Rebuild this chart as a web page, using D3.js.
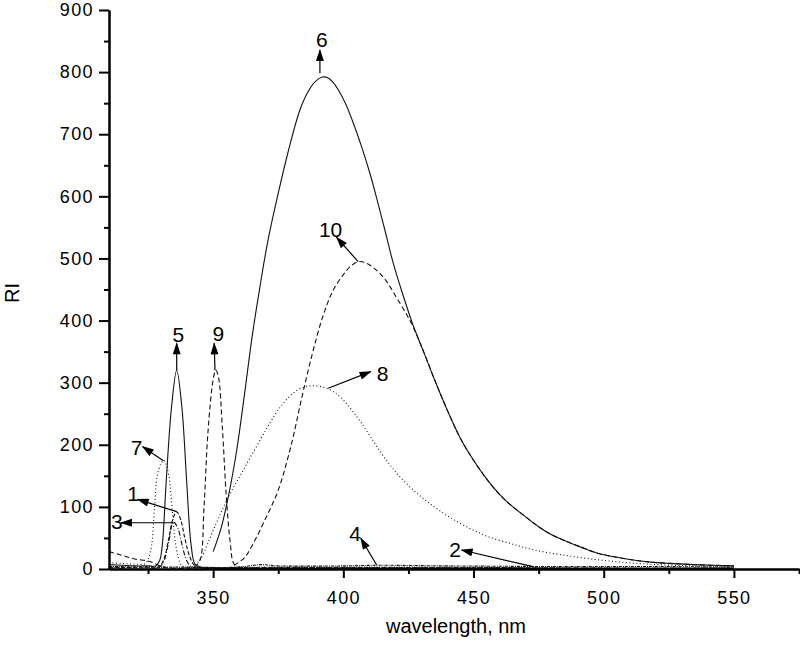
<!DOCTYPE html>
<html>
<head>
<meta charset="utf-8">
<script src="https://cdn.jsdelivr.net/npm/d3@7"></script>
<style>
  body { margin: 0; background: #fff; }
  svg text { font-family: "Liberation Sans", Arial, sans-serif; fill: #000; }
</style>
</head>
<body>
<svg id="chart" width="800" height="650"></svg>
<script>
// spectra, [wavelength nm, RI]
const s1 = [[310,3],[325,2],[329,3],[331,15],[333,50],[334.5,80],[336,92],[337.5,80],[339,52],[341,20],[343,5],[346,2],[360,2],[400,2],[450,2],[500,1],[550,1]];
const s2 = [[310,2],[340,2],[370,3],[400,3],[440,3],[472,2],[500,1],[550,1]];
const s3 = [[310,2],[329,2],[331,12],[333,45],[334.7,76],[336.5,65],[338,40],[340,12],[342,3],[350,1],[400,1],[550,1]];
const s4 = [[310,4],[340,3],[360,3],[368,7],[375,5],[400,5],[413,6],[440,5],[480,4],[520,4],[550,3]];
const s5 = [[310,7],[315,6],[320,5],[325,5],[328,5],[329.5,14],[330.5,40],[332,143],[334,260],[336,320],[338,260],[339.8,143],[341.5,40],[343,8],[345,3],[350,2],[360,1],[400,1],[550,1]];
const s6 = [[350,28],[353,65],[356,120],[359,190],[362,280],[365,375],[368,455],[371,528],[375,605],[379,675],[383,735],[386,765],[389,784],[392,792],[394,791],[396,784],[398,772],[401,748],[404,716],[407,680],[410,640],[413,594],[416,545],[419,495],[423,440],[427,390],[431,348],[435,305],[440,255],[445,210],[450,175],[455,145],[460,120],[464,104],[470,84],[475,68],[480,55],[486,44],[492,34],[498,25],[505,19],[512,14],[518,11],[525,9],[535,7],[550,5]];
const s7 = [[310,10],[315,9],[320,8],[324,9],[326,30],[327.5,100],[328.5,150],[330,170],[331,175],[332,168],[333,150],[334,110],[335,60],[336.5,20],[338,5],[340,2],[360,1],[550,1]];
const s8 = [[342,3],[345,15],[348,42],[351,72],[354,100],[357,125],[361,155],[365,185],[370,222],[374,250],[377,267],[381,284],[385,293],[389,295],[393.6,291],[397,283],[400,272],[404,252],[409,222],[414,190],[418,167],[422,147],[428,123],[434.6,101],[441,83],[447.4,68],[455,53],[465,40],[472.9,31],[485,22],[498.5,14.5],[510,10],[524,6.4],[537,5],[550,4]];
const s9 = [[310,28],[315,22],[320,16],[325,13],[328,8],[331,3],[335,1],[340,1],[343,4],[345,15],[346.5,100],[348,220],[350,305],[351,320],[352,310],[353.5,230],[355,120],[356.5,45],[358,8],[360,3],[370,2],[400,2],[550,1]];
const s10 = [[358,6],[362,18],[365,38],[370,80],[375,127],[380,200],[384,275],[388,345],[392,405],[396,448],[400,474],[403,488],[406,495],[409,492],[413,480],[416.6,463],[420,440],[424,412],[427,388],[431,348],[435,305],[440,255],[445,210],[450,175],[455,145],[460,120],[464,104],[470,84],[475,68],[480,55],[486,44],[492,34],[498,25],[505,19],[512,14],[518,11],[525,9],[535,7],[550,5]];

// annotations: label, label position, arrow tail, arrow head (data units)
const labels = ["1","2","3","4","5","6","7","8","9","10"];
const labelPos = [[319.3,122],[442.9,31.7],[313,76.2],[404.5,56.4],[336.6,377],[391.7,852],[320.6,196],[415.1,315],[352,379.5],[395.1,547]];
const arrowFrom = [[336,92.3],[472.9,3.7],[334.7,74.5],[412.8,6.4],[336,320],[391,798],[330.9,174.4],[394.2,291],[350.7,320],[405.7,494.8]];
const arrowTo = [[321,112.2],[445.4,30.6],[314.6,74.5],[406.7,49.4],[336,363.4],[391,835.6],[322.9,197],[410.5,317.7],[350.4,363.4],[397.4,534]];

const xMajor = [350, 400, 450, 500, 550];
const xMinor = [325, 375, 425, 475, 525, 575];
const yMajor = [0, 100, 200, 300, 400, 500, 600, 700, 800, 900];
const yMinor = [50, 150, 250, 350, 450, 550, 650, 750, 850];

const series = [
  { d: s2, dash: "1,1.5" },
  { d: s4, dash: "3,1,1,1" },
  { d: s1, dash: "4,2" },
  { d: s3, dash: "5,2,1,2" },
  { d: s7, dash: "1,2.5" },
  { d: s8, dash: "1,2.5" },
  { d: s9, dash: "5,3" },
  { d: s10, dash: "5,3" },
  { d: s5, dash: null },
  { d: s6, dash: null }
];

const svg = d3.select("#chart");
const x = d3.scaleLinear().domain([310, 575]).range([109, 799]);
const y = d3.scaleLinear().domain([0, 900]).range([569, 10]);

const line = d3.line()
  .x(d => x(d[0]))
  .y(d => y(d[1]))
  .curve(d3.curveCatmullRom.alpha(0.5));

svg.append("g")
  .selectAll("path")
  .data(series)
  .enter().append("path")
  .attr("d", d => line(d.d))
  .attr("fill", "none")
  .attr("stroke", "#111")
  .attr("stroke-width", 1.1)
  .attr("stroke-dasharray", d => d.dash);

// axes
function styleAxis(g) {
  g.select(".domain").attr("stroke", "#000").attr("stroke-width", 2);
  g.selectAll(".tick line").attr("stroke", "#000").attr("stroke-width", 2);
  g.selectAll(".tick text")
    .attr("font-size", "18px")
    .attr("letter-spacing", "1.4px")
    .attr("font-family", "Liberation Sans, Arial, sans-serif");
}

svg.append("g")
  .attr("transform", `translate(0,${y(0)})`)
  .call(d3.axisBottom(x).tickValues(xMinor).tickSize(5).tickSizeOuter(0).tickFormat(""))
  .call(styleAxis);

svg.append("g")
  .attr("transform", `translate(0,${y(0)})`)
  .call(d3.axisBottom(x).tickValues(xMajor).tickSize(9).tickSizeOuter(0).tickPadding(13).tickFormat(d3.format("d")))
  .call(styleAxis);

svg.append("g")
  .attr("transform", `translate(${x(310)},0)`)
  .call(d3.axisLeft(y).tickValues(yMinor).tickSize(5).tickSizeOuter(0).tickFormat(""))
  .call(styleAxis);

svg.append("g")
  .attr("transform", `translate(${x(310)},0)`)
  .call(d3.axisLeft(y).tickValues(yMajor).tickSize(10).tickSizeOuter(0).tickPadding(5).tickFormat(d3.format("d")))
  .call(styleAxis);

svg.append("text")
  .attr("x", 456)
  .attr("y", 633)
  .attr("text-anchor", "middle")
  .attr("font-size", "20px")
  .text("wavelength, nm");

svg.append("text")
  .attr("transform", "translate(19,293) rotate(-90)")
  .attr("text-anchor", "middle")
  .attr("font-size", "20px")
  .text("RI");

// arrows
svg.append("defs").append("marker")
  .attr("id", "head")
  .attr("markerUnits", "userSpaceOnUse")
  .attr("viewBox", "0 0 12 8")
  .attr("refX", 11)
  .attr("refY", 4)
  .attr("markerWidth", 13)
  .attr("markerHeight", 8)
  .attr("orient", "auto")
  .append("path")
  .attr("d", "M0,0L12,4L0,8Z")
  .attr("fill", "#000");

svg.append("g")
  .selectAll("line")
  .data(labels)
  .enter().append("line")
  .attr("x1", (d, i) => x(arrowFrom[i][0]))
  .attr("y1", (d, i) => y(arrowFrom[i][1]))
  .attr("x2", (d, i) => x(arrowTo[i][0]))
  .attr("y2", (d, i) => y(arrowTo[i][1]))
  .attr("stroke", "#000")
  .attr("stroke-width", 1.2)
  .attr("marker-end", "url(#head)");

svg.append("g")
  .selectAll("text")
  .data(labels)
  .enter().append("text")
  .attr("x", (d, i) => x(labelPos[i][0]))
  .attr("y", (d, i) => y(labelPos[i][1]))
  .attr("text-anchor", "middle")
  .attr("dominant-baseline", "central")
  .attr("font-size", "21px")
  .text(d => d);
</script>
</body>
</html>
